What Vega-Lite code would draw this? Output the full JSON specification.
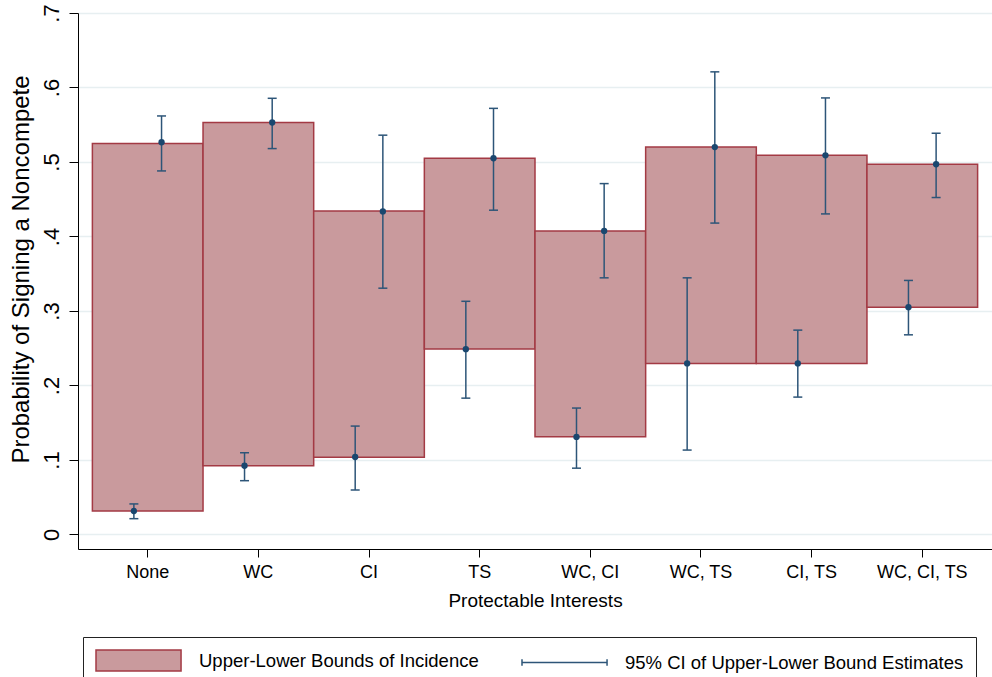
{
  "$schema": "https://vega.github.io/schema/vega-lite/v6.json",
  "width": 914,
  "height": 536,
  "autosize": {"type": "none"},
  "padding": {"left": 78, "top": 13, "right": 0, "bottom": 128},
  "background": "white",
  "config": {
    "font": "Liberation Sans",
    "view": {"stroke": null},
    "axis": {"labelColor": "black", "titleColor": "black", "titleFontWeight": "normal", "domainColor": "black", "tickColor": "black", "domainWidth": 1, "tickWidth": 1}
  },
  "datasets": {
    "bounds": [
      {"interest": "None", "lower": 0.0315, "upper": 0.5248, "series": "Upper-Lower Bounds of Incidence"},
      {"interest": "WC", "lower": 0.0923, "upper": 0.553, "series": "Upper-Lower Bounds of Incidence"},
      {"interest": "CI", "lower": 0.1035, "upper": 0.4343, "series": "Upper-Lower Bounds of Incidence"},
      {"interest": "TS", "lower": 0.249, "upper": 0.505, "series": "Upper-Lower Bounds of Incidence"},
      {"interest": "WC, CI", "lower": 0.1312, "upper": 0.4075, "series": "Upper-Lower Bounds of Incidence"},
      {"interest": "WC, TS", "lower": 0.2296, "upper": 0.52, "series": "Upper-Lower Bounds of Incidence"},
      {"interest": "CI, TS", "lower": 0.2296, "upper": 0.509, "series": "Upper-Lower Bounds of Incidence"},
      {"interest": "WC, CI, TS", "lower": 0.305, "upper": 0.497, "series": "Upper-Lower Bounds of Incidence"}
    ],
    "est": [
      {"interest": "None", "bound": "lower", "est": 0.0315, "lo": 0.0212, "hi": 0.041},
      {"interest": "None", "bound": "upper", "est": 0.5265, "lo": 0.488, "hi": 0.5618},
      {"interest": "WC", "bound": "lower", "est": 0.0923, "lo": 0.0722, "hi": 0.1097},
      {"interest": "WC", "bound": "upper", "est": 0.553, "lo": 0.518, "hi": 0.5855},
      {"interest": "CI", "bound": "lower", "est": 0.104, "lo": 0.0597, "hi": 0.1455},
      {"interest": "CI", "bound": "upper", "est": 0.4337, "lo": 0.3306, "hi": 0.536},
      {"interest": "TS", "bound": "lower", "est": 0.2488, "lo": 0.183, "hi": 0.313},
      {"interest": "TS", "bound": "upper", "est": 0.505, "lo": 0.4353, "hi": 0.572},
      {"interest": "WC, CI", "bound": "lower", "est": 0.131, "lo": 0.089, "hi": 0.1697},
      {"interest": "WC, CI", "bound": "upper", "est": 0.4075, "lo": 0.3445, "hi": 0.471},
      {"interest": "WC, TS", "bound": "lower", "est": 0.2296, "lo": 0.1133, "hi": 0.3445},
      {"interest": "WC, TS", "bound": "upper", "est": 0.52, "lo": 0.418, "hi": 0.621},
      {"interest": "CI, TS", "bound": "lower", "est": 0.2296, "lo": 0.1844, "hi": 0.2743},
      {"interest": "CI, TS", "bound": "upper", "est": 0.509, "lo": 0.4303, "hi": 0.586},
      {"interest": "WC, CI, TS", "bound": "lower", "est": 0.305, "lo": 0.268, "hi": 0.341},
      {"interest": "WC, CI, TS", "bound": "upper", "est": 0.497, "lo": 0.4523, "hi": 0.5386}
    ]
  },
  "encoding": {
    "x": {
      "field": "interest", "type": "nominal",
      "scale": {"domain": ["None", "WC", "CI", "TS", "WC, CI", "WC, TS", "CI, TS", "WC, CI, TS"], "paddingInner": 0, "paddingOuter": 0.13},
      "axis": {"title": "Protectable Interests", "titleFontSize": 19, "titlePadding": 10, "labelFontSize": 18, "labelAngle": 0, "labelPadding": 6, "tickSize": 8, "grid": false}
    }
  },
  "layer": [
    {
      "data": {"name": "bounds"},
      "mark": {"type": "bar", "fill": "#c99a9d", "stroke": "#a33a44", "strokeWidth": 1.5},
      "encoding": {
        "y": {
          "field": "upper", "type": "quantitative",
          "scale": {"domain": [-0.0195, 0.7], "nice": false, "zero": false},
          "axis": {
            "title": "Probability of Signing a Noncompete", "titleFontSize": 24, "titlePadding": 7, "titleY": 256,
            "values": [0, 0.1, 0.2, 0.3, 0.4, 0.5, 0.6, 0.7],
            "labelExpr": "datum.value == 0 ? '0' : replace(format(datum.value, '.1f'), '0.', '.')",
            "labelAngle": -90, "labelAlign": "center", "labelBaseline": "alphabetic",
            "labelFontSize": 22, "labelPadding": 10.7, "tickSize": 9,
            "grid": true, "gridColor": "#e7eff1", "gridWidth": 1.5
          }
        },
        "y2": {"field": "lower"}
      }
    },
    {
      "data": {"name": "est"},
      "mark": {"type": "rule", "color": "#2d5578", "strokeWidth": 1.5},
      "encoding": {
        "xOffset": {"field": "bound", "type": "nominal", "scale": {"domain": ["lower", "upper"], "paddingInner": 0, "paddingOuter": 1.5}},
        "y": {"field": "lo", "type": "quantitative"},
        "y2": {"field": "hi"}
      }
    },
    {
      "data": {"name": "est"},
      "mark": {"type": "tick", "color": "#2d5578", "size": 9, "thickness": 1.5, "opacity": 1},
      "encoding": {
        "xOffset": {"field": "bound", "type": "nominal", "scale": {"domain": ["lower", "upper"], "paddingInner": 0, "paddingOuter": 1.5}},
        "y": {"field": "lo", "type": "quantitative"}
      }
    },
    {
      "data": {"name": "est"},
      "mark": {"type": "tick", "color": "#2d5578", "size": 9, "thickness": 1.5, "opacity": 1},
      "encoding": {
        "xOffset": {"field": "bound", "type": "nominal", "scale": {"domain": ["lower", "upper"], "paddingInner": 0, "paddingOuter": 1.5}},
        "y": {"field": "hi", "type": "quantitative"}
      }
    },
    {
      "data": {"name": "est"},
      "mark": {"type": "point", "filled": true, "color": "#1a476f", "size": 40, "opacity": 1},
      "encoding": {
        "xOffset": {"field": "bound", "type": "nominal", "scale": {"domain": ["lower", "upper"], "paddingInner": 0, "paddingOuter": 1.5}},
        "y": {"field": "est", "type": "quantitative"}
      }
    },
    {
      "data": {"name": "bounds"},
      "mark": {"type": "point", "opacity": 0, "strokeWidth": 1.5},
      "encoding": {
        "y": {"field": "upper", "type": "quantitative"},
        "shape": {
          "field": "series", "type": "nominal",
          "scale": {"domain": ["Upper-Lower Bounds of Incidence", "95% CI of Upper-Lower Bound Estimates"], "range": ["M-1,-1H7.1V1H-1Z", "M-1,0H7.1M-1,-0.3V0.3M7.1,-0.3V0.3"]},
          "legend": {
            "orient": "none", "legendX": 5, "legendY": 624,
            "direction": "horizontal", "columns": 2, "title": null,
            "strokeColor": "#222222", "padding": 12,
            "labelFontSize": 18.5, "labelColor": "black", "labelOffset": 81, "labelLimit": 600,
            "columnPadding": 40, "symbolSize": 441, "symbolOpacity": 1, "symbolStrokeWidth": 1.5
          }
        },
        "fill": {
          "field": "series", "type": "nominal",
          "scale": {"domain": ["Upper-Lower Bounds of Incidence", "95% CI of Upper-Lower Bound Estimates"], "range": ["#c99a9d", "transparent"]},
          "legend": {
            "orient": "none", "legendX": 5, "legendY": 624,
            "direction": "horizontal", "columns": 2, "title": null,
            "strokeColor": "#222222", "padding": 12,
            "labelFontSize": 18.5, "labelColor": "black", "labelOffset": 81, "labelLimit": 600,
            "columnPadding": 40, "symbolSize": 441, "symbolOpacity": 1, "symbolStrokeWidth": 1.5
          }
        },
        "stroke": {
          "field": "series", "type": "nominal",
          "scale": {"domain": ["Upper-Lower Bounds of Incidence", "95% CI of Upper-Lower Bound Estimates"], "range": ["#a33a44", "#2d5578"]},
          "legend": {
            "orient": "none", "legendX": 5, "legendY": 624,
            "direction": "horizontal", "columns": 2, "title": null,
            "strokeColor": "#222222", "padding": 12,
            "labelFontSize": 18.5, "labelColor": "black", "labelOffset": 81, "labelLimit": 600,
            "columnPadding": 40, "symbolSize": 441, "symbolOpacity": 1, "symbolStrokeWidth": 1.5
          }
        }
      }
    }
  ]
}
